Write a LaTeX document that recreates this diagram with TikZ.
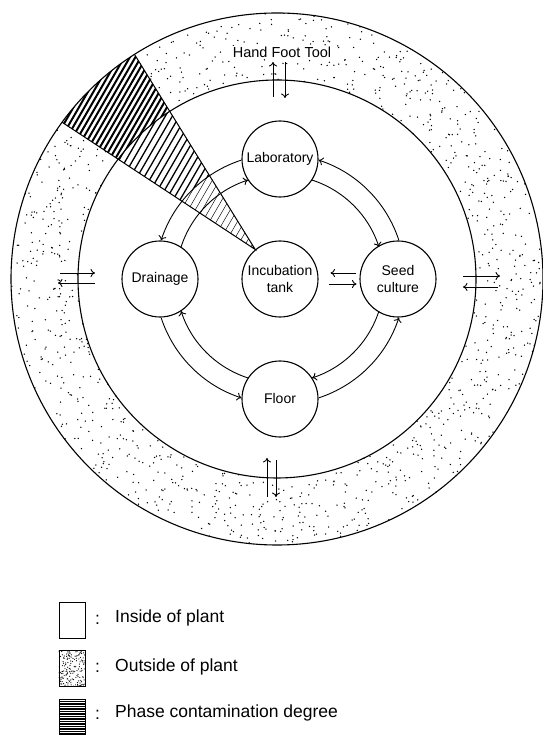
\documentclass[tikz,border=0pt]{standalone}
\usepackage{fontspec}
\setmainfont{Liberation Sans}
\usetikzlibrary{positioning,arrows,arrows.meta,calc}

\tikzset{
  site/.style={draw, circle, line width=1.1pt, minimum size=76pt, inner sep=0pt,
    align=center, font=\fontsize{14}{16.5}\selectfont},
  flow/.style={-{To[length=4.5pt,width=8pt]}, line width=0.9pt},
  wall/.style={line width=1.1pt},
  keybox/.style={draw, line width=0.9pt, minimum width=26pt, minimum height=36pt, inner sep=0pt},
  keytext/.style={anchor=west, inner sep=0pt, font=\fontsize{17.5}{20}\selectfont},
}

\begin{document}
\begin{tikzpicture}[x=1pt,y=1pt]
    \useasboundingbox (0,0) rectangle (542,735);
    \coordinate (C) at (277,456);

    % Outside of plant (stippled ring)
    \pgfmathsetseed{7}
    \foreach \i in {1,...,1150} {
        \pgfmathsetmacro\dotr{100*sqrt(1.99^2+rnd*(2.66^2-1.99^2))}
        \pgfmathsetmacro\dota{360*rnd}
        \fill (C) ++(\dota:\dotr) circle (0.75pt);
    }

    % Sites
    \node[site] (inc) at (280,456) {Incubation\\tank};
    \node[site, on grid, above=120pt of inc] (lab) {Laboratory};
    \node[site, on grid, left=120pt of inc] (drain) {Drainage};
    \node[site, on grid, right=118pt of inc] (seed) {Seed\\culture};
    \node[site, on grid, below=120pt of inc] (floor) {Floor};

    % Contamination wedge
    \coordinate (apex) at (inc.130);
    \coordinate (wa) at ($(C)+(122.4:266)$);
    \begin{scope}
        \clip (apex) -- (wa) arc[start angle=122.4, end angle=143.9, radius=266] -- cycle;
        \fill[white] (0,300) rectangle (300,735);
        \foreach \x in {-80,-74.5,...,220}
            \draw[line width=2pt] (\x,400) -- ++(60:450);
        \begin{scope}
            \clip (C) circle (199);
            \fill[white] (0,300) rectangle (300,735);
            \foreach \x in {-80,-73,...,220}
                \draw[line width=1.3pt] (\x,400) -- ++(60:450);
            \begin{scope}
                \clip (inc.center) circle (125);
                \fill[white] (0,300) rectangle (300,735);
                \foreach \x in {-80,-73,...,220}
                    \draw[line width=0.45pt] (\x,400) -- ++(60:450);
            \end{scope}
        \end{scope}
    \end{scope}
    \draw[line width=1pt] (wa) -- (apex) -- ($(C)+(143.9:266)$);

    % Plant walls
    \draw[wall] (C) circle (266);
    \draw[wall] (C) circle (199);
    \node[fill=white, inner sep=1pt, font=\fontsize{14.5}{16}\selectfont] (hft) at (282,683) {Hand Foot Tool};

    % Transfers between sites
    \foreach \a in {0,90,180,270} {
        \draw[flow] (inc.center) ++(\a+72:104) arc[start angle=\a+72, end angle=\a+18, radius=104];
        \draw[flow] (inc.center) ++(\a+18:125) arc[start angle=\a+18, end angle=\a+72, radius=125];
    }
    \draw[flow, shorten <=3pt, shorten >=12pt] ([yshift=6pt]seed.west) -- ([yshift=6pt]inc.east);
    \draw[flow, shorten <=10pt, shorten >=3pt] ([yshift=-5pt]inc.east) -- ([yshift=-5pt]seed.west);

    % Gates through the wall
    \coordinate (gN) at (279,655);
    \coordinate (gS) at (272,257);
    \coordinate (gW) at (78,457);
    \coordinate (gE) at (480,454);
    \draw[flow] ([xshift=-6pt,yshift=-17pt]gN) -- ([xshift=-6pt,yshift=18pt]gN);
    \draw[flow] ([xshift=6pt,yshift=18pt]gN) -- ([xshift=6pt,yshift=-18pt]gN);
    \draw[flow] ([xshift=-5pt,yshift=-19pt]gS) -- ([xshift=-5pt,yshift=20pt]gS);
    \draw[flow] ([xshift=4pt,yshift=18pt]gS) -- ([xshift=4pt,yshift=-19pt]gS);
    \draw[flow] ([xshift=-18pt,yshift=5pt]gW) -- ([xshift=17pt,yshift=5pt]gW);
    \draw[flow] ([xshift=17pt,yshift=-5pt]gW) -- ([xshift=-20pt,yshift=-5pt]gW);
    \draw[flow] ([xshift=-17pt,yshift=5pt]gE) -- ([xshift=20pt,yshift=5pt]gE);
    \draw[flow] ([xshift=18pt,yshift=-6pt]gE) -- ([xshift=-17pt,yshift=-6pt]gE);

    % Legend
    \node[keybox] (key1) at (72,115) {};
    \node[keybox] (key2) at (72,66.5) {};
    \node[keybox] (key3) at (72,17.5) {};
    \begin{scope}
        \clip (key2.south west) rectangle (key2.north east);
        \foreach \i in {1,...,160}
            \fill ($(key2.south west)+(26*rnd,36*rnd)$) circle (0.6pt);
    \end{scope}
    \foreach \y in {1,3.5,...,34}
        \draw[line width=1.6pt] (59,\y) -- (85,\y);
    \node[keytext] (c1) at (95,115) {:};
    \node[keytext] (c2) at (95,67) {:};
    \node[keytext] (c3) at (95,20) {:};
    \node[keytext] (t1) at (115,117) {Inside of plant};
    \node[keytext] (t2) at (115,68) {Outside of plant};
    \node[keytext] (t3) at (115,22) {Phase contamination degree};
\end{tikzpicture}
\end{document}
